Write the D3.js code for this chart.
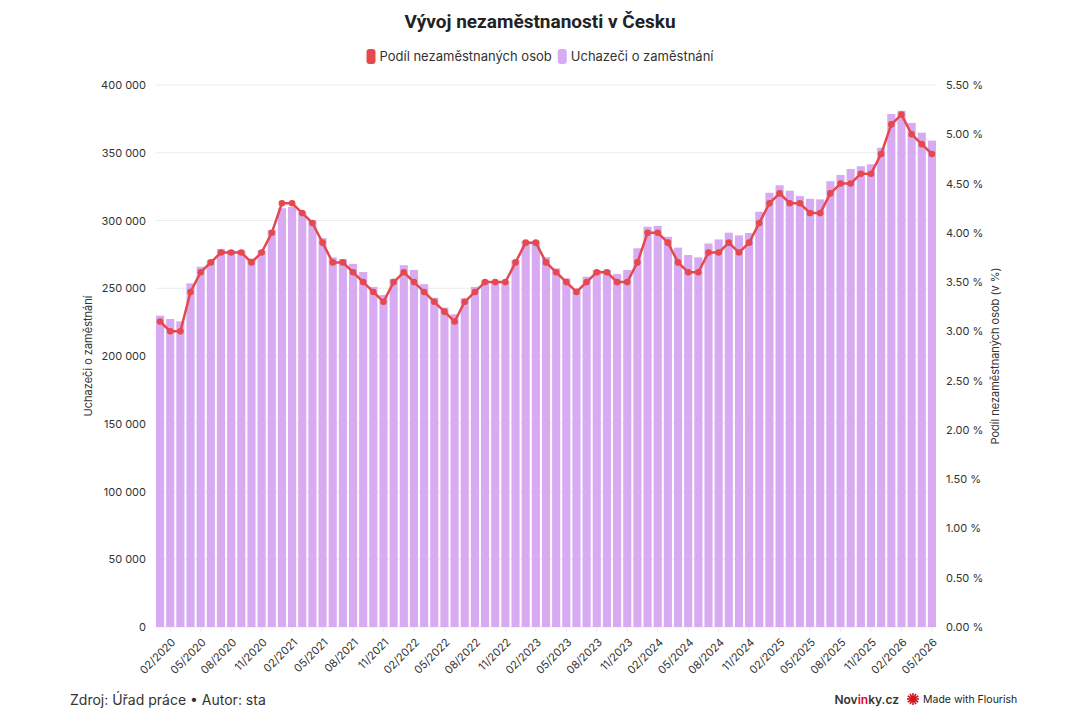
<!DOCTYPE html>
<html lang="cs">
<head>
<meta charset="utf-8">
<title>Vývoj nezaměstnanosti v Česku</title>
<script src="https://cdn.jsdelivr.net/npm/d3@7"></script>
<style>
  html, body { margin: 0; padding: 0; background: #fff; }
  svg { display: block; font-family: Inter, "Noto Sans", sans-serif; }
</style>
</head>
<body>
<svg id="chart" width="1080" height="720"></svg>
<script>
// months 01/2020 .. 05/2026
const months = [
  '01/2020','02/2020','03/2020','04/2020','05/2020','06/2020','07/2020','08/2020','09/2020','10/2020','11/2020','12/2020',
  '01/2021','02/2021','03/2021','04/2021','05/2021','06/2021','07/2021','08/2021','09/2021','10/2021','11/2021','12/2021',
  '01/2022','02/2022','03/2022','04/2022','05/2022','06/2022','07/2022','08/2022','09/2022','10/2022','11/2022','12/2022',
  '01/2023','02/2023','03/2023','04/2023','05/2023','06/2023','07/2023','08/2023','09/2023','10/2023','11/2023','12/2023',
  '01/2024','02/2024','03/2024','04/2024','05/2024','06/2024','07/2024','08/2024','09/2024','10/2024','11/2024','12/2024',
  '01/2025','02/2025','03/2025','04/2025','05/2025','06/2025','07/2025','08/2025','09/2025','10/2025','11/2025','12/2025',
  '01/2026','02/2026','03/2026','04/2026','05/2026'
];

// Uchazeči o zaměstnání (počet)
const jobSeekers = [
  229800, 227300, 225600, 253600, 265900, 270800, 279000, 278000, 278000, 272000, 278000, 293000,
  309000, 310000, 306500, 300000, 287000, 272800, 271600, 268000, 262000, 251000, 245000, 257000,
  267000, 263500, 253000, 243000, 235700, 230800, 242600, 251000, 255600, 255000, 255000, 270800,
  285000, 285000, 273000, 264700, 257300, 250000, 258500, 263500, 263500, 260500, 263500, 279500,
  295400, 296000, 288000, 280000, 274500, 272800, 283000, 286000, 291000, 289000, 290800, 306500,
  320500, 326000, 322000, 318000, 316000, 315600, 329000, 333600, 338000, 340000, 341500, 353700,
  378600, 381000, 372000, 364800, 359000
];

// Podíl nezaměstnaných osob (%)
const unemploymentShare = [
  3.1, 3.0, 3.0, 3.4, 3.6, 3.7, 3.8, 3.8, 3.8, 3.7, 3.8, 4.0,
  4.3, 4.3, 4.2, 4.1, 3.9, 3.7, 3.7, 3.6, 3.5, 3.4, 3.3, 3.5,
  3.6, 3.5, 3.4, 3.3, 3.2, 3.1, 3.3, 3.4, 3.5, 3.5, 3.5, 3.7,
  3.9, 3.9, 3.7, 3.6, 3.5, 3.4, 3.5, 3.6, 3.6, 3.5, 3.5, 3.7,
  4.0, 4.0, 3.9, 3.7, 3.6, 3.6, 3.8, 3.8, 3.9, 3.8, 3.9, 4.1,
  4.3, 4.4, 4.3, 4.3, 4.2, 4.2, 4.4, 4.5, 4.5, 4.6, 4.6, 4.8,
  5.1, 5.2, 5.0, 4.9, 4.8
];

const leftTicks = [0, 50000, 100000, 150000, 200000, 250000, 300000, 350000, 400000];
const rightTicks = [0, 0.5, 1, 1.5, 2, 2.5, 3, 3.5, 4, 4.5, 5, 5.5];
const xTickLabels = months.filter((m, i) => i % 3 === 1);

const barColor = '#d7aaf2';
const lineColor = '#e5484d';
const textColor = '#333';

const svg = d3.select('#chart');
const margin = { top: 85, right: 144, bottom: 93, left: 156 };
const width = +svg.attr('width');
const height = +svg.attr('height');
const w = width - margin.left - margin.right;
const h = height - margin.top - margin.bottom;

// title + legend
svg.append('text')
  .attr('x', width / 2).attr('y', 28)
  .attr('text-anchor', 'middle')
  .style('font-family', 'Roboto, Inter, sans-serif')
  .style('font-size', '19px').style('font-weight', 700)
  .attr('fill', '#222')
  .text('Vývoj nezaměstnanosti v Česku');

const legendItems = [
  { label: 'Podíl nezaměstnaných osob', color: lineColor },
  { label: 'Uchazeči o zaměstnání', color: barColor }
];
const legend = svg.append('g');
let lx = 0;
legendItems.forEach(item => {
  const it = legend.append('g').attr('transform', `translate(${lx},0)`);
  it.append('rect').attr('x', 0).attr('y', -7).attr('width', 9).attr('height', 15).attr('rx', 3)
    .attr('fill', item.color);
  const t = it.append('text').attr('x', 13).attr('y', 5)
    .style('font-size', '13px').attr('fill', textColor).text(item.label);
  lx += 13 + t.node().getComputedTextLength() + 6;
});
legend.attr('transform', `translate(${(width - lx + 6) / 2},56)`);

const g = svg.append('g').attr('transform', `translate(${margin.left},${margin.top})`);

const x = d3.scaleBand()
  .domain(months)
  .range([0, w])
  .paddingInner(0.2)
  .paddingOuter(0);

const yLeft = d3.scaleLinear().domain([0, 400000]).range([h, 0]);
const yRight = d3.scaleLinear().domain([0, 5.5]).range([h, 0]);

const fmtThousands = d3.formatLocale({ decimal: ',', thousands: ' ', grouping: [3], currency: ['', ''] }).format(',d');
const fmtPct = d => d3.format('.2f')(d) + ' %';

// gridlines
g.append('g')
  .selectAll('line')
  .data(leftTicks)
  .join('line')
    .attr('x1', 0).attr('x2', w)
    .attr('y1', d => yLeft(d)).attr('y2', d => yLeft(d))
    .attr('stroke', '#ececec');

// bars
g.append('g')
  .selectAll('rect')
  .data(jobSeekers)
  .join('rect')
    .attr('x', (d, i) => x(months[i]))
    .attr('y', d => yLeft(d))
    .attr('width', x.bandwidth())
    .attr('height', d => h - yLeft(d))
    .attr('fill', barColor);

// line + dots
const line = d3.line()
  .x((d, i) => x(months[i]) + x.bandwidth() / 2)
  .y(d => yRight(d));

g.append('path')
  .datum(unemploymentShare)
  .attr('d', line)
  .attr('fill', 'none')
  .attr('stroke', lineColor)
  .attr('stroke-width', 2.5)
  .attr('stroke-linejoin', 'round');

g.append('g')
  .selectAll('circle')
  .data(unemploymentShare)
  .join('circle')
    .attr('cx', (d, i) => x(months[i]) + x.bandwidth() / 2)
    .attr('cy', d => yRight(d))
    .attr('r', 3.3)
    .attr('fill', lineColor);

// axes
const leftAxis = g.append('g')
  .call(d3.axisLeft(yLeft).tickValues(leftTicks).tickFormat(fmtThousands).tickSize(0).tickPadding(10));
const rightAxis = g.append('g')
  .attr('transform', `translate(${w},0)`)
  .call(d3.axisRight(yRight).tickValues(rightTicks).tickFormat(fmtPct).tickSize(0).tickPadding(10));
const bottomAxis = g.append('g')
  .attr('transform', `translate(0,${h})`)
  .call(d3.axisBottom(x).tickValues(xTickLabels).tickSize(5).tickPadding(4));

[leftAxis, rightAxis, bottomAxis].forEach(a => {
  a.select('.domain').remove();
  a.selectAll('text').style('font-size', '11px').attr('fill', textColor)
    .style('font-family', 'Inter, "Noto Sans", sans-serif');
});
bottomAxis.selectAll('line').attr('stroke', '#ececec');
bottomAxis.selectAll('text')
  .attr('text-anchor', 'end')
  .attr('x', 0).attr('y', 0).attr('dy', 0)
  .attr('transform', 'translate(6,16) rotate(-45)');

// axis titles
svg.append('text')
  .attr('transform', `translate(92,${margin.top + h / 2}) rotate(-90)`)
  .attr('text-anchor', 'middle')
  .style('font-size', '11px').attr('fill', textColor)
  .text('Uchazeči o zaměstnání');
svg.append('text')
  .attr('transform', `translate(999,${margin.top + h / 2}) rotate(-90)`)
  .attr('text-anchor', 'middle')
  .style('font-size', '11px').attr('fill', textColor)
  .text('Podíl nezaměstnaných osob (v %)');

// footer
svg.append('text')
  .attr('x', 70).attr('y', 705)
  .style('font-size', '14px').attr('fill', textColor)
  .text('Zdroj: Úřad práce • Autor: sta');

const brand = svg.append('text')
  .attr('x', 899).attr('y', 704)
  .attr('text-anchor', 'end')
  .style('font-size', '12px').style('font-weight', 600).attr('fill', '#333');
brand.append('tspan').text('Nov');
brand.append('tspan').attr('fill', '#e4002b').text('in');
brand.append('tspan').text('ky.cz');

const star = svg.append('g').attr('transform', 'translate(913,699)');
star.selectAll('line')
  .data(d3.range(12))
  .join('line')
    .attr('x1', 0).attr('y1', 0)
    .attr('x2', d => 6 * Math.cos(d * Math.PI / 6))
    .attr('y2', d => 6 * Math.sin(d * Math.PI / 6))
    .attr('stroke', '#d0171f').attr('stroke-width', 1.6);
star.append('circle').attr('r', 3).attr('fill', '#d0171f');

svg.append('text')
  .attr('x', 923).attr('y', 703)
  .style('font-size', '10.5px').attr('fill', '#222')
  .text('Made with Flourish');
</script>
</body>
</html>
